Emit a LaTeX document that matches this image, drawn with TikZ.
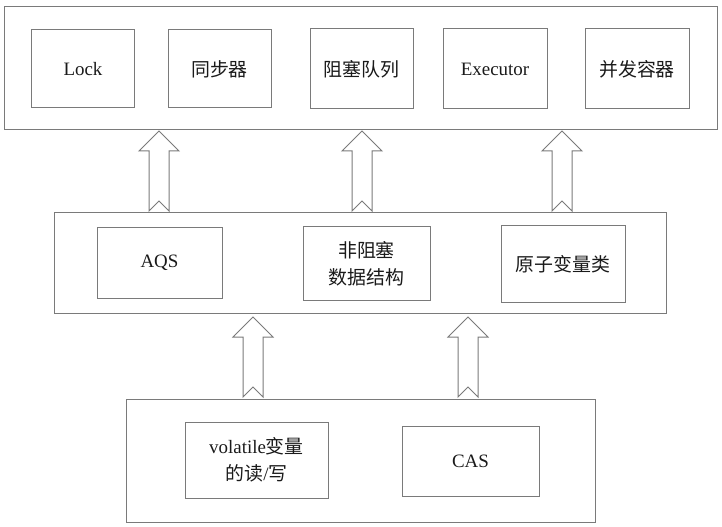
\documentclass[tikz,border=0pt]{standalone}
\usepackage{fontspec}
\setmainfont{Liberation Serif}
\newfontfamily\cjk{Noto Sans CJK SC}
\definecolor{linegray}{HTML}{7A7A7A}
\definecolor{txt}{HTML}{1A1A1A}
\tikzset{
  box/.style={draw=linegray, line width=1bp, inner sep=0pt, align=center, text=txt,
    font=\fontsize{19}{27}\selectfont},
  outer/.style={draw=linegray, line width=1bp, inner sep=0pt},
  blk/.style={draw=linegray, line width=1bp, fill=white, line join=miter},
}
% block arrow: #1 = x centre, #2 = tip y, #3 = bottom y
\newcommand{\blockarrow}[3]{%
  \draw[blk] (#1,#2) -- (#1+20,#2+20) -- (#1+10,#2+20) -- (#1+10,#3) -- (#1,#3-10)
    -- (#1-10,#3) -- (#1-10,#2+20) -- (#1-20,#2+20) -- cycle;}
\begin{document}
\begin{tikzpicture}[x=1bp,y=-1bp]
\useasboundingbox (0,0) rectangle (722,527);
% top layer
\node[outer, minimum width=712bp, minimum height=123bp] (top) at (361,68.5) {};
\node[box, minimum width=103bp, minimum height=78bp] (lock) at (83,69) {Lock};
\node[box, minimum width=103bp, minimum height=78bp] (sync) at (219.5,69) {\cjk 同步器};
\node[box, minimum width=103bp, minimum height=80bp] (bq) at (361.5,69) {\cjk 阻塞队列};
\node[box, minimum width=104bp, minimum height=80bp] (exec) at (495,69) {Executor};
\node[box, minimum width=104bp, minimum height=80bp] (cc) at (637,69) {\cjk 并发容器};
% middle layer
\node[outer, minimum width=611bp, minimum height=100bp] (mid) at (360.5,263) {};
\node[box, minimum width=125bp, minimum height=70bp] (aqs) at (159.5,263) {AQS};
\node[box, minimum width=127bp, minimum height=73bp] (nb) at (366.5,263.5) {\cjk 非阻塞\\\cjk 数据结构};
\node[box, minimum width=124bp, minimum height=76bp] (atom) at (563,264) {\cjk 原子变量类};
% bottom layer
\node[outer, minimum width=468bp, minimum height=123bp] (bot) at (361,460.5) {};
\node[box, minimum width=143bp, minimum height=76bp] (vol) at (256.5,460) {volatile{\cjk 变量}\\{\cjk 的读}/{\cjk 写}};
\node[box, minimum width=137bp, minimum height=70bp] (cas) at (470.5,461) {CAS};
% arrows
\blockarrow{159}{131}{211}
\blockarrow{362}{131}{211}
\blockarrow{562}{131}{211}
\blockarrow{253}{317}{397}
\blockarrow{468}{317}{397}
\end{tikzpicture}
\end{document}
